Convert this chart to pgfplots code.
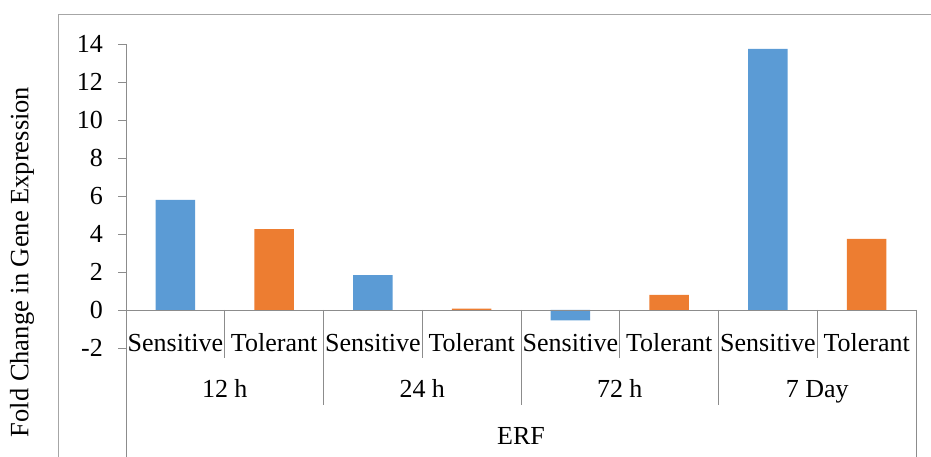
\documentclass[border=0pt]{standalone}
\usepackage{pgfplots}
\pgfplotsset{compat=1.18}
\usepackage{fontspec}
\setmainfont{Liberation Serif}
\definecolor{sblue}{HTML}{5B9BD5}
\definecolor{torange}{HTML}{ED7D31}
\definecolor{axgray}{HTML}{8C8C8C}
\definecolor{frgray}{HTML}{A6A6A6}
\begin{document}
\fontsize{26bp}{31bp}\selectfont
\begin{tikzpicture}
\path[use as bounding box] (0,0) rectangle (931bp,457bp);
\draw[frgray, line width=1bp] (58.5bp,-2bp) -- (58.5bp,442.7bp) -- (935bp,442.7bp);
\begin{axis}[
  at={(126bp,109bp)}, anchor=south west,
  scale only axis, width=790bp, height=304bp,
  xmin=-0.5, xmax=7.5, ymin=-2, ymax=14,
  clip=false,
  axis y line*=left,
  axis x line=none,
  y axis line style={axgray, line width=0.8bp},
  ytick={-2,0,...,14},
  tick align=outside, major tick length=8bp,
  ytick style={axgray, line width=0.8bp},
  /pgf/number format/assume math mode=true,
  yticklabel style={font=\fontsize{26bp}{31bp}\selectfont, inner sep=0pt, xshift=-15bp},
  ylabel={Fold Change in Gene Expression},
  ylabel style={at={(rel axis cs:-0.1316,0.283)}, anchor=center, font=\fontsize{26.5bp}{31bp}\selectfont},
  ybar, bar width=0.4, bar shift=0pt,
]
\addplot[fill=sblue, draw=none] coordinates {(0,5.79) (2,1.84) (4,-0.55) (6,13.74)};
\addplot[fill=torange, draw=none] coordinates {(1,4.26) (3,0.07) (5,0.79) (7,3.74)};
% zero line and separators
\draw[axgray, line width=0.8bp] (axis cs:-0.5,0) -- (axis cs:7.5,0);
\draw[axgray, line width=0.8bp] (axis cs:-0.5,-2) -- (axis cs:-0.5,-7.9);
\draw[axgray, line width=0.8bp] (axis cs:7.5,0) -- (axis cs:7.5,-7.9);
\draw[axgray, line width=0.8bp] (axis cs:0.5,0) -- (axis cs:0.5,-2.53);
\draw[axgray, line width=0.8bp] (axis cs:2.5,0) -- (axis cs:2.5,-2.53);
\draw[axgray, line width=0.8bp] (axis cs:4.5,0) -- (axis cs:4.5,-2.53);
\draw[axgray, line width=0.8bp] (axis cs:6.5,0) -- (axis cs:6.5,-2.53);
\draw[axgray, line width=0.8bp] (axis cs:1.5,0) -- (axis cs:1.5,-5.0);
\draw[axgray, line width=0.8bp] (axis cs:3.5,0) -- (axis cs:3.5,-5.0);
\draw[axgray, line width=0.8bp] (axis cs:5.5,0) -- (axis cs:5.5,-5.0);
% category labels
\node[anchor=base, inner sep=0pt] at (axis cs:0,-2.16) {Sensitive};
\node[anchor=base, inner sep=0pt] at (axis cs:1,-2.16) {Tolerant};
\node[anchor=base, inner sep=0pt] at (axis cs:2,-2.16) {Sensitive};
\node[anchor=base, inner sep=0pt] at (axis cs:3,-2.16) {Tolerant};
\node[anchor=base, inner sep=0pt] at (axis cs:4,-2.16) {Sensitive};
\node[anchor=base, inner sep=0pt] at (axis cs:5,-2.16) {Tolerant};
\node[anchor=base, inner sep=0pt] at (axis cs:6,-2.16) {Sensitive};
\node[anchor=base, inner sep=0pt] at (axis cs:7,-2.16) {Tolerant};
\node[anchor=base, inner sep=0pt] at (axis cs:0.5,-4.63) {12 h};
\node[anchor=base, inner sep=0pt] at (axis cs:2.5,-4.63) {24 h};
\node[anchor=base, inner sep=0pt] at (axis cs:4.5,-4.63) {72 h};
\node[anchor=base, inner sep=0pt] at (axis cs:6.5,-4.63) {7 Day};
\node[anchor=base, inner sep=0pt] at (axis cs:3.5,-7.1) {ERF};
\end{axis}
\end{tikzpicture}
\end{document}
